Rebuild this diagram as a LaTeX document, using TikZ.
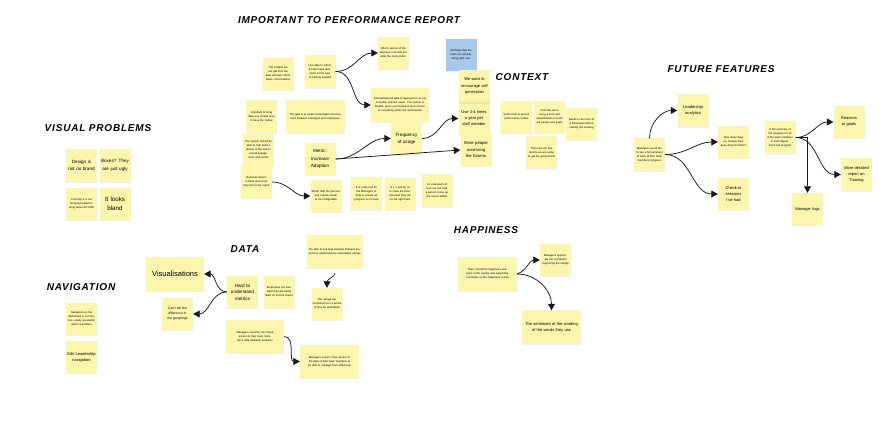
\documentclass[tikz,border=0pt]{standalone}
\usepackage{fontspec}
\setmainfont{Liberation Sans}
\usetikzlibrary{arrows.meta,shadows,calc}
\definecolor{noteY}{RGB}{251,246,172}
\definecolor{noteB}{RGB}{168,200,234}
\tikzset{
  note/.style={fill=noteY, inner sep=1pt, align=center, font=\fontsize{5}{7.5}\selectfont,
    drop shadow={opacity=0.12, shadow xshift=0.4pt, shadow yshift=-1.2pt}},
  sq/.style={note, minimum width=31pt, minimum height=32pt, text width=29pt},
  wd/.style={note, minimum width=58pt, minimum height=33pt, text width=54pt},
  tinytxt/.style={font=\fontsize{2.7}{4}\selectfont},
  midtxt/.style={font=\fontsize{4}{6}\selectfont},
  bigtxt/.style={font=\fontsize{6.2}{9}\selectfont},
  head/.style={font=\fontsize{10}{12}\selectfont\bfseries\itshape\addfontfeatures{LetterSpace=8}},
  arr/.style={-{Triangle[length=6.5pt,width=7pt]}, line width=0.75pt, draw=black!90}
}
\begin{document}
\begin{tikzpicture}[x=1pt,y=-1pt]
\useasboundingbox (0,0) rectangle (892,427);
\fill[white] (0,0) rectangle (892,427);

% headings
\node[head] (h1) at (349,20) {IMPORTANT TO PERFORMANCE REPORT};
\node[head] (h2) at (522,77) {CONTEXT};
\node[head] (h3) at (721,69) {FUTURE FEATURES};
\node[head] (h4) at (98,128) {VISUAL PROBLEMS};
\node[head] (h5) at (245,249) {DATA};
\node[head] (h6) at (486,230) {HAPPINESS};
\node[head] (h7) at (81,287) {NAVIGATION};

% important to performance report
\node[sq,tinytxt] (n1) at (278,74) {The insights we can get from the data will help inform future conversations};
\node[sq,tinytxt] (n2) at (320,71.5) {Use data to inform \& help make decisions on the type of training needed};
\node[sq,tinytxt] (n3) at (393.5,53) {Which section of the business currently are what the main points.};
\node[sq,tinytxt,fill=noteB] (n4) at (461,55) {All things that the team are already doing right now};
\node[wd,tinytxt,minimum height=34pt] (n5) at (400,105) {Internal/external data of approach to all our everyday relevant areas. The system is flexible, gives your business area access to everything within the report/portal};
\node[wd,tinytxt,minimum width=59pt] (n6) at (315.5,116.5) {The goal is to create meaningful conversations between managers and employees.};
\node[sq,tinytxt] (n7) at (261.5,116.5) {Important to bring data to a central area to have the review};
\node[sq,tinytxt] (n8) at (258.5,150) {The system should be able to help build a picture of the team's overall engagement and results};
\node[sq,tinytxt] (n9) at (256.5,182) {Business drivers to think about how they link to the report};
\node[sq,font=\fontsize{4.6}{7.5}\selectfont] (metric) at (320,159) {Metric: Increase Adoption};
\node[sq,font=\fontsize{4.6}{7}\selectfont] (freq) at (406.5,138.5) {Frequency of usage};
\node[sq,midtxt] (use) at (474,118.5) {Use 3-4 times a year per staff member};
\node[sq,font=\fontsize{4.2}{6.5}\selectfont] (more) at (476,150) {More people accessing the forums};
\node[sq,font=\fontsize{4}{6.5}\selectfont] (enc) at (474.5,86.5) {We want to encourage self generation};
\node[sq,tinytxt] (which) at (326,196) {Which help the process and reports needs to be configurable};
\node[sq,tinytxt] (r1) at (366.5,193.5) {It is a key tool for the Managers to help to ensure all progress is on track};
\node[sq,tinytxt] (r2) at (400,194) {Is it a tool for us to show the business that they are on the right track};
\node[sq,tinytxt] (r3) at (437,190.5) {An evaluation of how we can help a person move up the career ladder};

% context
\node[sq,tinytxt] (c1) at (516.5,117) {Some form of annual performance review};
\node[sq,tinytxt] (c2) at (549.5,117) {Currently we're using a form and spreadsheets to track our people and goals};
\node[sq,tinytxt] (c3) at (581.5,124) {Needs to be more of a framework before starting the meeting};
\node[sq,tinytxt] (c4) at (541.5,152.5) {There are the two reports we are using to get the general feel};

% future features
\node[sq,tinytxt] (fl) at (649.5,154.5) {Managers would like to see a full summary of each of their team members' progress};
\node[sq,midtxt] (lead) at (693,110.5) {Leadership analytics};
\node[sq,tinytxt] (how) at (733.5,142) {How many days my reviews have been done for them?};
\node[sq,midtxt] (check) at (733.5,194) {Check-in sessions I've had};
\node[sq,tinytxt] (fr) at (780,137.5) {A full summary of the progress for all of the team members in each department and program};
\node[sq,midtxt] (reas) at (849,122) {Reasons or goals};
\node[sq,midtxt] (det) at (856.5,174.5) {More detailed report on Training};
\node[sq,midtxt] (mlog) at (807.5,209) {Manager logs};

% visual problems
\node[sq,font=\fontsize{4.6}{7.5}\selectfont] (v1) at (81.5,165.5) {Design is not on brand};
\node[sq,font=\fontsize{4.6}{7.5}\selectfont] (v2) at (115,165.5) {Boxes? They are just ugly};
\node[sq,tinytxt] (v3) at (81.5,204) {Currently it is not bringing forward to bring about ACTION};
\node[sq,bigtxt] (v4) at (115,204) {It looks bland};

% data
\node[wd,font=\fontsize{7.5}{9}\selectfont,minimum height=34pt] (vis) at (175,274) {Visualisations};
\node[sq,font=\fontsize{3.3}{5}\selectfont] (cant) at (177.5,314) {Can't tell the difference in the groupings};
\node[sq,font=\fontsize{4.6}{6.5}\selectfont] (hard) at (242.5,292) {Hard to understand metrics};
\node[sq,tinytxt] (emp) at (279,292) {Employees not sure what they are being rated on and its impact};
\node[wd,tinytxt,minimum width=56pt] (gap) at (335,251.5) {Be able to see Gap Analysis between Supervisor and Employee expectation ratings.};
\node[sq,tinytxt] (below) at (327,304) {The ratings are compared over a period of time for individuals};
\node[wd,tinytxt] (mcur) at (255,336.5) {Managers currently can't have access to their team member's data available Analytics};
\node[wd,tinytxt,minimum width=59pt] (mneed) at (329.5,361.5) {Managers need to have access to the data of their team members to be able to manage them effectively};

% happiness
\node[wd,tinytxt,minimum width=59pt,minimum height=34pt] (hl) at (487.5,274) {There should be happiness analytics in the reports and supporting comments on the happiness scores};
\node[sq,tinytxt] (htr) at (555.5,260) {Managers appreciate the comments supporting the ratings};
\node[wd,midtxt,minimum width=59pt] (hb) at (551.5,327) {The sentiment of the wording of the words they use};

% navigation
\node[sq,tinytxt] (nav1) at (81.5,319) {Navigation on the dashboard is not intuitive, easily accessible and is a problem};
\node[sq,midtxt] (nav2) at (81.5,357) {Edit Leadership navigation};

% connectors
\draw[arr] (n2.east) to[out=0,in=180] (n3.west);
\draw[arr] (n2.east) to[out=0,in=180] (n5.west);
\draw[arr] (metric.east) to[out=0,in=180] (freq.west);
\draw[arr] (metric.east) -- (more.west);
\draw[arr] (freq.east) to[out=0,in=180] (use.west);
\draw[arr] (n9.east) to[out=0,in=180] (which.west);

\draw[arr] (fl.north) to[out=90,in=180] (lead.west);
\draw[arr] (fl.east) to[out=0,in=180] (how.west);
\draw[arr] (fl.east) to[out=0,in=180] (check.west);
\draw[arr] (fr.east) to[out=0,in=180] (reas.west);
\draw[arr] (fr.east) to[out=0,in=180] (det.west);
\draw[arr] (fr.east) -| (mlog.north);

\draw[arr] (hard.west) to[out=180,in=0] (vis.east);
\draw[arr] (hard.west) to[out=180,in=0] (cant.east);
\draw[arr,shorten <=5pt] (gap.south) to[out=-90,in=90] (below.north);
\draw[arr] (mcur.east) to[out=0,in=180] (mneed.west);

\draw[arr] (hl.east) to[out=20,in=180] (htr.west);
\draw[arr] (hl.east) to[out=0,in=90] (hb.north);
\end{tikzpicture}
\end{document}
